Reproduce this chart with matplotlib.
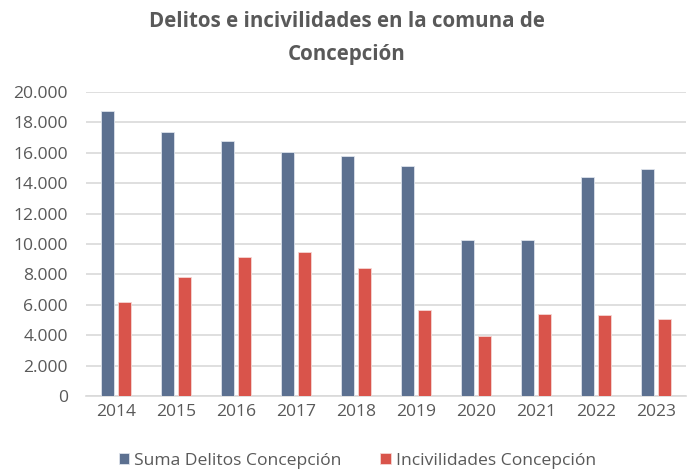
import matplotlib
matplotlib.use("Agg")
import matplotlib.pyplot as plt
import numpy as np
from matplotlib.ticker import FuncFormatter

years = ["2014", "2015", "2016", "2017", "2018", "2019", "2020", "2021", "2022", "2023"]
delitos = [18780, 17340, 16800, 16080, 15800, 15100, 10240, 10240, 14380, 14920]
incivilidades = [6170, 7800, 9120, 9450, 8390, 5650, 3960, 5390, 5340, 5080]
series_names = ["Suma Delitos Concepción", "Incivilidades Concepción"]
title = "Delitos e incivilidades en la comuna de\nConcepción"

plt.rcParams['font.family'] = ['Open Sans', 'DejaVu Sans']
text_color = "#595959"
c_blue = "#5C7090"
c_red = "#D9544B"

fig = plt.figure(figsize=(6.94, 4.70), dpi=100)
ax = fig.add_axes([86 / 694, 1 - 396 / 470, 600 / 694, 304 / 470])

x = np.arange(len(years))
w = 0.22
ax.bar(x - 0.145, delitos, width=w, color=c_blue, edgecolor="#dde3ec", linewidth=0.6,
       label=series_names[0], zorder=3)
ax.bar(x + 0.145, incivilidades, width=w, color=c_red, edgecolor="#f5d6d3", linewidth=0.6,
       label=series_names[1], zorder=3)

ax.set_xlim(-0.5, len(years) - 0.5)
ax.set_ylim(0, 20000)
ax.set_yticks(np.arange(0, 20001, 2000))
ax.yaxis.set_major_formatter(FuncFormatter(lambda v, p: f"{int(v):,}".replace(",", ".")))
ax.set_xticks(x)
ax.set_xticklabels(years)
ax.grid(axis="y", color="#d9d9d9", linewidth=1.2, zorder=0)
for s in ["top", "right", "left"]:
    ax.spines[s].set_visible(False)
ax.spines["bottom"].set_color("#d9d9d9")
ax.spines["bottom"].set_linewidth(1.2)
ax.tick_params(axis="both", length=0, labelsize=12.6, colors=text_color)
ax.tick_params(axis="y", pad=13)
ax.tick_params(axis="x", pad=6)

fig.text(0.5, 1 - 38 / 470, title, ha="center", va="center", fontsize=14.8,
         fontweight="bold", color=text_color, linespacing=1.7)

leg = fig.legend(loc="center", bbox_to_anchor=(0.515, 1 - 461 / 470), ncol=2, frameon=False,
                 fontsize=12.6, handlelength=0.6, handleheight=0.6, columnspacing=2.2,
                 handletextpad=0.3)
for t in leg.get_texts():
    t.set_color(text_color)

fig.savefig("out.png", dpi=100)
